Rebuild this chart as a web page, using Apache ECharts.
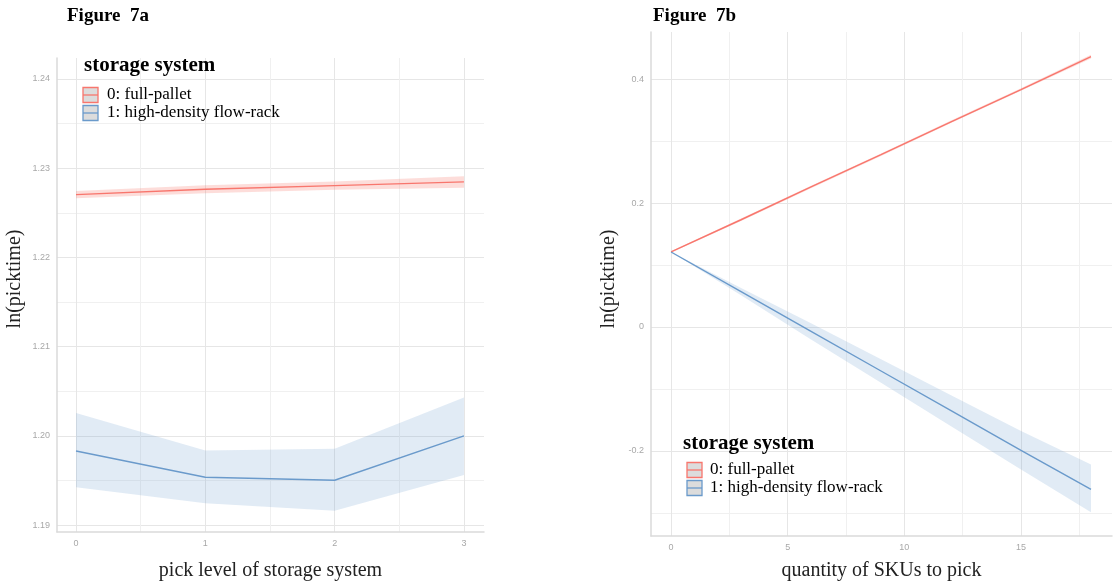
<!DOCTYPE html>
<html><head><meta charset="utf-8">
<script src="https://cdn.jsdelivr.net/npm/echarts@6/dist/echarts.min.js"></script>
<style>html,body{margin:0;padding:0;background:#fff}#c{width:1117px;height:582px}</style>
</head><body><div id="c"></div>
<script>
// ---------- Figure 7a data ----------
const levelX = [0, 1, 2, 3];
const fullPalletA   = [1.22704, 1.22764, 1.22805, 1.22846];
const fullPalletALo = [1.22664, 1.22720, 1.22758, 1.22782];
const fullPalletAHi = [1.22744, 1.22808, 1.22852, 1.22910];
const flowRackA   = [1.19830, 1.19536, 1.19502, 1.20000];
const flowRackALo = [1.19423, 1.19244, 1.19161, 1.19562];
const flowRackAHi = [1.20255, 1.19835, 1.19854, 1.20430];

// ---------- Figure 7b data ----------
const skuX = [0, 3, 6, 9, 12, 15, 18];
const fullPalletB   = [0.121, 0.173, 0.226, 0.278, 0.331, 0.383, 0.436];
const fullPalletBLo = [0.120, 0.171, 0.224, 0.276, 0.329, 0.381, 0.433];
const fullPalletBHi = [0.122, 0.175, 0.228, 0.280, 0.333, 0.385, 0.439];
const flowRackB   = [0.121, 0.057, -0.007, -0.071, -0.135, -0.199, -0.262];
const flowRackBLo = [0.121, 0.051, -0.020, -0.090, -0.160, -0.230, -0.299];
const flowRackBHi = [0.121, 0.063, 0.006, -0.052, -0.110, -0.168, -0.222];

// ---------- ticks ----------
const yTicksA = [1.19, 1.20, 1.21, 1.22, 1.23, 1.24];
const yMinorA = [1.195, 1.205, 1.215, 1.225, 1.235];
const xTicksA = [0, 1, 2, 3];
const xMinorA = [0.5, 1.5, 2.5];
const yTicksB = [-0.2, 0, 0.2, 0.4];
const yMinorB = [-0.3, -0.1, 0.1, 0.3];
const xTicksB = [0, 5, 10, 15];
const xMinorB = [2.5, 7.5, 12.5, 17.5];

const seriesNames = ['0: full-pallet', '1: high-density flow-rack'];
const RED = '#F8766D', BLUE = '#6A9ACB';
const RED_BAND = 'rgba(248,118,109,0.25)', BLUE_BAND = 'rgba(106,154,203,0.2)';
const SERIF = '"Liberation Serif","Times New Roman",serif';

function pairs(xs, ys) { return xs.map((x, i) => [x, ys[i]]); }

function majorAxis(grid, min, max, ticks, fmt, name, nameGap, namePad) {
  return {
    type: 'value', gridIndex: grid, min: min, max: max,
    name: name, nameLocation: 'middle', nameGap: nameGap,
    nameTextStyle: { fontFamily: SERIF, fontSize: 20, color: '#222', padding: namePad || 0 },
    axisLine: { show: true, onZero: false, lineStyle: { color: '#dadada', width: 1.5 } },
    axisTick: { show: false, customValues: ticks },
    axisLabel: { customValues: ticks, formatter: fmt, color: '#a8a8a8', fontSize: 9,
                 fontFamily: 'Arial, "Liberation Sans", sans-serif', margin: 7 },
    splitLine: { show: true, lineStyle: { color: '#e6e6e6', width: 1 } }
  };
}
function minorAxis(grid, min, max, ticks) {
  return {
    type: 'value', gridIndex: grid, min: min, max: max,
    axisLine: { show: false, onZero: false }, axisLabel: { show: false },
    axisTick: { show: false, customValues: ticks },
    splitLine: { show: true, lineStyle: { color: '#f0f0f0', width: 1 } }
  };
}
const fmtA = v => v.toFixed(2);
const fmtB = v => Math.abs(v) < 1e-9 ? '0' : v.toFixed(1);
const fmtInt = v => String(Math.round(v));

// confidence ribbon as one polygon through the library's coordinate system
function band(xi, yi, xs, lo, hi, color) {
  return {
    type: 'custom', xAxisIndex: xi, yAxisIndex: yi, silent: true, z: 1,
    data: xs.map((x, i) => [x, lo[i], hi[i]]),
    encode: { x: 0, y: [1, 2] },
    renderItem: function (params, api) {
      if (params.dataIndex !== 0) return;
      const top = xs.map((x, i) => api.coord([x, hi[i]]));
      const bot = xs.map((x, i) => api.coord([x, lo[i]])).reverse();
      return { type: 'polygon', shape: { points: top.concat(bot) }, style: { fill: color } };
    }
  };
}
function fit(xi, yi, xs, ys, color, name) {
  return { type: 'line', name: name, xAxisIndex: xi, yAxisIndex: yi, data: pairs(xs, ys),
           symbol: 'none', lineStyle: { color: color, width: 1.4 }, z: 3 };
}

function legendGroup(x0, yTitle, yRows, keyX, textX) {
  const els = [{ type: 'text', x: x0, y: yTitle, z: 10,
    style: { text: 'storage system', fontFamily: SERIF, fontWeight: 'bold', fontSize: 21, fill: '#000', verticalAlign: 'middle' } }];
  const cols = [RED, BLUE];
  yRows.forEach((yc, i) => {
    els.push({ type: 'rect', z: 10, shape: { x: keyX, y: yc - 7.5, width: 15, height: 15 },
      style: { fill: '#dcdcdc', stroke: cols[i], lineWidth: 1.3 } });
    els.push({ type: 'line', z: 11, shape: { x1: keyX, y1: yc, x2: keyX + 15, y2: yc },
      style: { stroke: cols[i], lineWidth: 1.3 } });
    els.push({ type: 'text', x: textX, y: yc, z: 10,
      style: { text: seriesNames[i], fontFamily: SERIF, fontSize: 17, fill: '#000', verticalAlign: 'middle' } });
  });
  return els;
}

const option = {
  animation: false,
  backgroundColor: '#fff',
  title: [
    { text: 'Figure  7a', left: 62, top: 2, textStyle: { fontFamily: SERIF, fontWeight: 'bold', fontSize: 19, color: '#000' } },
    { text: 'Figure  7b', left: 648, top: 2, textStyle: { fontFamily: SERIF, fontWeight: 'bold', fontSize: 19, color: '#000' } }
  ],
  grid: [
    { left: 57, top: 58, width: 427, height: 474, containLabel: false, outerBoundsMode: 'none' },
    { left: 651, top: 32, width: 461, height: 504, containLabel: false, outerBoundsMode: 'none' }
  ],
  xAxis: [
    majorAxis(0, -0.147, 3.155, xTicksA, fmtInt, 'pick level of storage system', 29),
    minorAxis(0, -0.147, 3.155, xMinorA),
    majorAxis(1, -0.86, 18.9, xTicksB, fmtInt, 'quantity of SKUs to pick', 25),
    minorAxis(1, -0.86, 18.9, xMinorB)
  ],
  yAxis: [
    majorAxis(0, 1.18922, 1.24235, yTicksA, fmtA, 'ln(picktime)', 32, [0, 0, 0, 32]),
    minorAxis(0, 1.18922, 1.24235, yMinorA),
    majorAxis(1, -0.3372, 0.4759, yTicksB, fmtB, 'ln(picktime)', 32, [0, 0, 0, 10]),
    minorAxis(1, -0.3372, 0.4759, yMinorB)
  ],
  series: [
    band(0, 0, levelX, fullPalletALo, fullPalletAHi, RED_BAND),
    band(0, 0, levelX, flowRackALo, flowRackAHi, BLUE_BAND),
    fit(0, 0, levelX, fullPalletA, RED, seriesNames[0]),
    fit(0, 0, levelX, flowRackA, BLUE, seriesNames[1]),
    band(2, 2, skuX, fullPalletBLo, fullPalletBHi, RED_BAND),
    band(2, 2, skuX, flowRackBLo, flowRackBHi, BLUE_BAND),
    fit(2, 2, skuX, fullPalletB, RED, seriesNames[0]),
    fit(2, 2, skuX, flowRackB, BLUE, seriesNames[1])
  ],
  graphic: [
    ...legendGroup(84, 66, [95, 113], 83, 107),
    ...legendGroup(683, 444, [470, 488], 687, 710)
  ]
};
const chart = echarts.init(document.getElementById('c'), null, { renderer: 'canvas' });
chart.setOption(option);
</script>
</body></html>
